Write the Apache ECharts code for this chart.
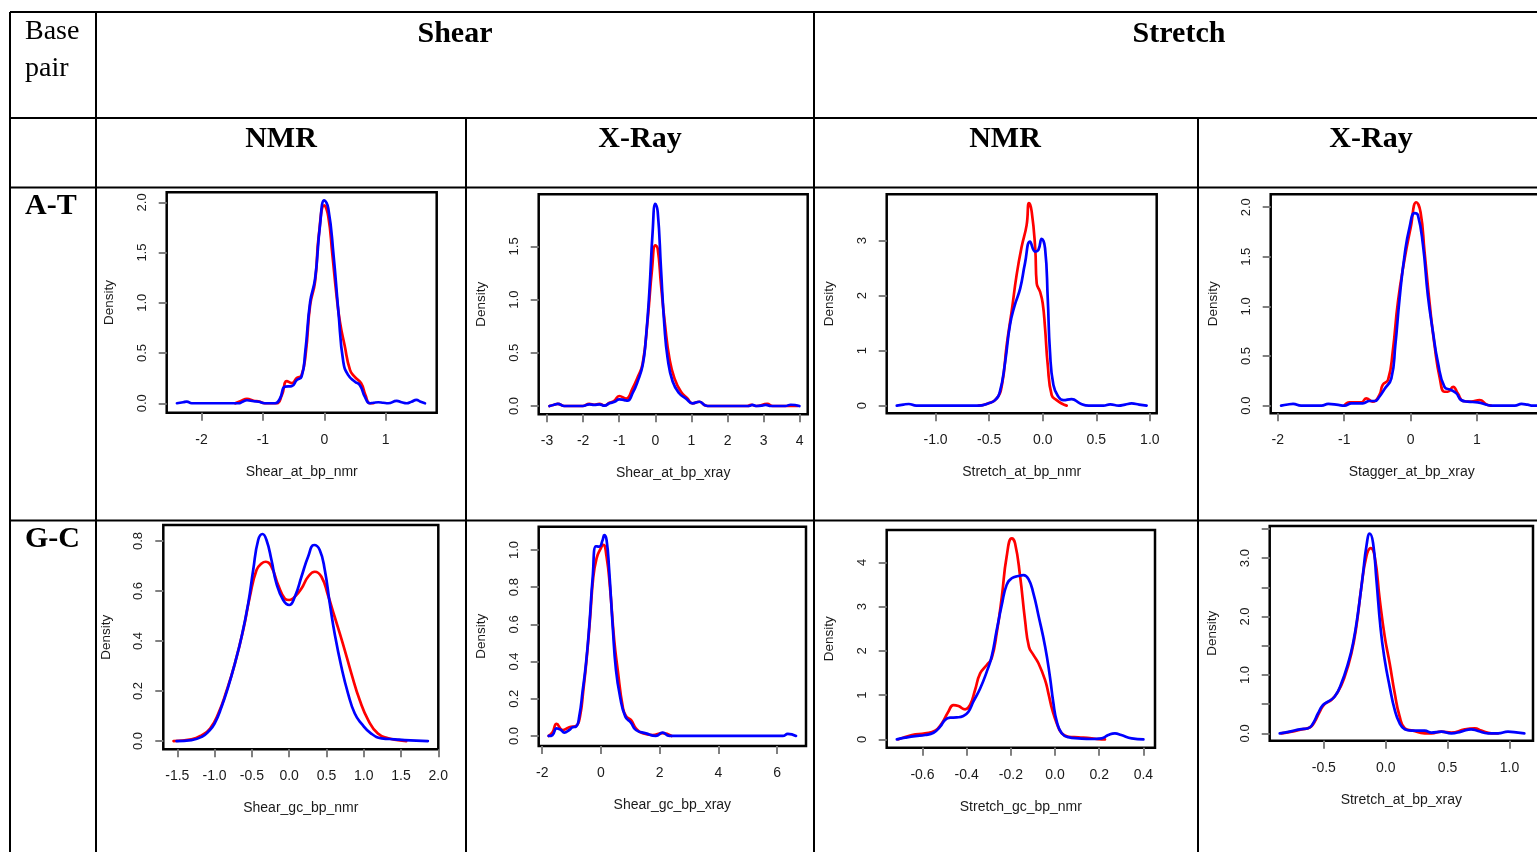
<!DOCTYPE html>
<html>
<head>
<meta charset="utf-8">
<title>Shear and Stretch density by base pair</title>
<script src="https://cdn.jsdelivr.net/npm/echarts@6/dist/echarts.min.js"></script>
<style>
  html, body { margin: 0; padding: 0; background: #ffffff; }
  #chart { width: 1537px; height: 852px; }
</style>
</head>
<body>
<div id="chart"></div>
<script>
// ---------- table text ----------
const rowLabels = ['A-T', 'G-C'];
const groupLabels = ['Shear', 'Stretch'];
const methodLabels = ['NMR', 'X-Ray', 'NMR', 'X-Ray'];
const cornerLabel = ['Base', 'pair'];

// ---------- panel axis titles ----------
const xAxisTitles = [
  'Shear_at_bp_nmr', 'Shear_at_bp_xray', 'Stretch_at_bp_nmr', 'Stagger_at_bp_xray',
  'Shear_gc_bp_nmr', 'Shear_gc_bp_xray', 'Stretch_gc_bp_nmr', 'Stretch_at_bp_xray'
];
const yAxisTitle = 'Density';

// ---------- axis ranges ----------
const xRanges = [[-2.567, 1.831], [-3.23, 4.22], [-1.456, 1.064], [-2.107, 2.14],
                 [-1.6875, 2.0], [-2.12, 6.98], [-0.762, 0.4525], [-0.937, 1.19]];
const yRanges = [[-0.094, 2.10], [-0.078, 1.99], [-0.139, 3.84], [-0.077, 2.13],
                 [-0.033, 0.864], [-0.054, 1.125], [-0.188, 4.73], [-0.126, 3.55]];

// ---------- tick values ----------
const xTicks = [[-2, -1, 0, 1], [-3, -2, -1, 0, 1, 2, 3, 4], [-1, -0.5, 0, 0.5, 1], [-2, -1, 0, 1],
                [-1.5, -1, -0.5, 0, 0.5, 1, 1.5, 2], [-2, 0, 2, 4, 6],
                [-0.6, -0.4, -0.2, 0, 0.2, 0.4], [-0.5, 0, 0.5, 1]];
const xDecimals = [0, 0, 1, 0, 1, 0, 1, 1];
const yTicks = [[0, 0.5, 1, 1.5, 2], [0, 0.5, 1, 1.5], [0, 1, 2, 3], [0, 0.5, 1, 1.5, 2],
                [0, 0.2, 0.4, 0.6, 0.8], [0, 0.2, 0.4, 0.6, 0.8, 1], [0, 1, 2, 3, 4],
                [0, 0.5, 1, 1.5, 2, 2.5, 3, 3.5]];
const yTickLabels = [[0, 0.5, 1, 1.5, 2], [0, 0.5, 1, 1.5], [0, 1, 2, 3], [0, 0.5, 1, 1.5, 2],
                     [0, 0.2, 0.4, 0.6, 0.8], [0, 0.2, 0.4, 0.6, 0.8, 1], [0, 1, 2, 3, 4],
                     [0, 1, 2, 3]];
const yDecimals = [1, 1, 0, 1, 1, 1, 0, 1];

// ---------- density curves [x, density] ----------
const atShearNmrRed = [[-1.45,0],[-1.35,0.025],[-1.26,0.043],[-1.15,0.025],[-1.07,0.02],[-0.97,0],[-0.78,0],[-0.69,0.083],[-0.61,0.22],[-0.53,0.20],[-0.45,0.25],[-0.37,0.28],[-0.30,0.51],[-0.23,0.98],[-0.15,1.21],[-0.09,1.67],[0,1.97],[0.065,1.86],[0.13,1.49],[0.20,1.07],[0.255,0.81],[0.33,0.58],[0.42,0.33],[0.50,0.26],[0.60,0.20],[0.67,0.083],[0.74,0],[0.80,0]];
const atShearNmrBlue = [[-2.40,0],[-2.30,0.01],[-2.24,0.017],[-2.16,0],[-1.40,0],[-1.33,0.015],[-1.26,0.03],[-1.15,0.02],[-1.07,0.015],[-0.97,0],[-0.80,0],[-0.72,0.05],[-0.64,0.165],[-0.53,0.17],[-0.45,0.23],[-0.37,0.265],[-0.31,0.51],[-0.23,1.01],[-0.15,1.24],[-0.07,1.77],[0,2.02],[0.065,1.94],[0.15,1.48],[0.23,0.91],[0.31,0.41],[0.39,0.28],[0.50,0.215],[0.58,0.18],[0.66,0.066],[0.74,0],[0.80,0.005],[0.88,0.01],[0.96,0.005],[1.04,0],[1.18,0.023],[1.26,0.01],[1.34,0],[1.42,0.015],[1.50,0.033],[1.57,0.015],[1.64,0]];

const atShearXrayRed = [[-2.93,0],[-2.80,0.012],[-2.70,0.02],[-2.52,0],[-2.01,0],[-1.83,0.02],[-1.69,0.012],[-1.55,0.02],[-1.41,0.005],[-1.27,0.03],[-1.13,0.05],[-1.0,0.094],[-0.81,0.07],[-0.63,0.166],[-0.49,0.27],[-0.35,0.40],[-0.21,0.82],[-0.09,1.29],[0,1.51],[0.065,1.48],[0.157,1.14],[0.27,0.76],[0.39,0.45],[0.53,0.26],[0.71,0.135],[0.89,0.07],[1.03,0.025],[1.22,0.04],[1.36,0.01],[1.45,0],[2.55,0],[2.65,0.012],[2.8,0],[3.1,0.02],[3.25,0],[3.95,0]];
const atShearXrayBlue = [[-2.93,0],[-2.80,0.012],[-2.70,0.02],[-2.52,0],[-2.01,0],[-1.83,0.016],[-1.69,0.01],[-1.55,0.016],[-1.41,0.003],[-1.27,0.025],[-1.13,0.04],[-1.0,0.063],[-0.86,0.056],[-0.77,0.05],[-0.63,0.12],[-0.49,0.23],[-0.35,0.385],[-0.26,0.64],[-0.166,1.07],[-0.074,1.64],[0,1.90],[0.065,1.83],[0.157,1.29],[0.25,0.76],[0.34,0.45],[0.48,0.23],[0.66,0.12],[0.85,0.07],[1.03,0.025],[1.22,0.04],[1.36,0.01],[1.45,0],[2.6,0],[2.69,0.01],[2.8,0],[2.95,0.003],[3.06,0.01],[3.2,0],[3.6,0],[3.75,0.012],[3.99,0]];

const atStretchNmrRed = [[-0.60,0],[-0.51,0.04],[-0.43,0.13],[-0.38,0.38],[-0.336,1.10],[-0.29,1.71],[-0.243,2.38],[-0.196,2.89],[-0.15,3.28],[-0.128,3.68],[-0.103,3.53],[-0.07,2.86],[-0.056,2.22],[-0.025,2.07],[0,1.86],[0.022,1.41],[0.047,0.74],[0.084,0.19],[0.13,0.10],[0.177,0.04],[0.224,0]];
const atStretchNmrBlue = [[-1.362,0],[-1.30,0.02],[-1.25,0.03],[-1.18,0],[-0.60,0],[-0.51,0.04],[-0.445,0.10],[-0.40,0.25],[-0.35,0.80],[-0.305,1.47],[-0.26,1.83],[-0.21,2.13],[-0.165,2.59],[-0.118,2.98],[-0.07,2.80],[-0.04,2.83],[-0.01,3.03],[0.022,2.86],[0.047,1.95],[0.068,0.98],[0.10,0.375],[0.146,0.164],[0.193,0.10],[0.27,0.12],[0.35,0.04],[0.43,0],[0.566,0],[0.63,0.024],[0.71,0],[0.77,0.02],[0.83,0.04],[0.90,0.02],[0.97,0]];

const atStaggerXrayRed = [[-1.0,0],[-0.92,0.034],[-0.74,0.034],[-0.67,0.074],[-0.57,0.04],[-0.47,0.107],[-0.42,0.21],[-0.34,0.26],[-0.27,0.54],[-0.19,1.05],[-0.09,1.48],[0,1.79],[0.085,2.05],[0.15,1.95],[0.21,1.55],[0.29,1.01],[0.36,0.61],[0.44,0.275],[0.51,0.14],[0.56,0.14],[0.64,0.19],[0.71,0.124],[0.79,0.047],[0.91,0.04],[1.04,0.057],[1.14,0.013],[1.21,0]];
const atStaggerXrayBlue = [[-1.95,0],[-1.85,0.012],[-1.77,0.017],[-1.65,0],[-1.34,0],[-1.24,0.017],[-1.09,0.007],[-1.0,0],[-0.89,0.023],[-0.72,0.023],[-0.62,0.047],[-0.54,0.047],[-0.47,0.09],[-0.39,0.17],[-0.29,0.275],[-0.23,0.61],[-0.166,1.08],[-0.09,1.52],[-0.015,1.80],[0.06,1.94],[0.11,1.92],[0.186,1.62],[0.26,1.11],[0.336,0.745],[0.41,0.44],[0.51,0.19],[0.61,0.158],[0.69,0.124],[0.76,0.057],[0.86,0.04],[1.01,0.034],[1.16,0.007],[1.21,0],[1.57,0],[1.67,0.017],[1.76,0.01],[1.84,0],[1.98,0]];

const gcShearNmrRed = [[-1.55,0],[-1.31,0.007],[-1.17,0.024],[-1.06,0.05],[-0.95,0.11],[-0.84,0.20],[-0.728,0.31],[-0.616,0.444],[-0.527,0.577],[-0.4375,0.684],[-0.37,0.71],[-0.3125,0.717],[-0.237,0.697],[-0.147,0.624],[-0.058,0.57],[0,0.564],[0.076,0.577],[0.165,0.61],[0.254,0.657],[0.344,0.677],[0.433,0.657],[0.52,0.584],[0.61,0.497],[0.72,0.39],[0.835,0.27],[0.946,0.164],[1.06,0.084],[1.19,0.03],[1.33,0.011],[1.46,0.004],[1.57,0]];
const gcShearNmrBlue = [[-1.51,0],[-1.31,0.004],[-1.17,0.017],[-1.085,0.037],[-1.0,0.07],[-0.906,0.137],[-0.817,0.217],[-0.728,0.31],[-0.638,0.417],[-0.549,0.55],[-0.482,0.684],[-0.415,0.804],[-0.357,0.828],[-0.304,0.804],[-0.237,0.724],[-0.17,0.63],[-0.08,0.564],[0,0.544],[0.076,0.577],[0.165,0.657],[0.254,0.737],[0.335,0.784],[0.41,0.764],[0.478,0.684],[0.545,0.55],[0.61,0.43],[0.70,0.297],[0.79,0.19],[0.88,0.11],[0.97,0.07],[1.10,0.03],[1.24,0.011],[1.42,0.007],[1.55,0.004],[1.86,0]];

const gcShearXrayRed = [[-1.78,0],[-1.65,0.02],[-1.51,0.065],[-1.305,0.032],[-1.08,0.047],[-0.85,0.054],[-0.715,0.104],[-0.60,0.247],[-0.49,0.41],[-0.375,0.624],[-0.26,0.857],[-0.15,0.955],[-0.034,1.0],[0.08,1.027],[0.19,0.964],[0.306,0.80],[0.45,0.516],[0.57,0.355],[0.74,0.158],[0.85,0.107],[1.02,0.086],[1.19,0.041],[1.42,0.014],[1.76,0.005],[2.10,0.015],[2.4,0]];
const gcShearXrayBlue = [[-1.78,0],[-1.65,0.005],[-1.51,0.041],[-1.36,0.032],[-1.25,0.018],[-1.08,0.032],[-0.965,0.047],[-0.85,0.05],[-0.74,0.104],[-0.62,0.247],[-0.51,0.39],[-0.40,0.588],[-0.28,0.857],[-0.17,1.02],[-0.057,1.018],[0.057,1.054],[0.11,1.08],[0.19,1.054],[0.28,0.89],[0.40,0.588],[0.51,0.355],[0.65,0.211],[0.83,0.104],[1.02,0.072],[1.19,0.032],[1.53,0.014],[1.87,0],[2.10,0.018],[2.33,0],[6.19,0],[6.36,0.011],[6.64,0]];

const gcStretchNmrRed = [[-0.709,0],[-0.648,0.098],[-0.588,0.136],[-0.543,0.196],[-0.513,0.36],[-0.483,0.625],[-0.46,0.776],[-0.437,0.753],[-0.407,0.678],[-0.385,0.776],[-0.362,1.115],[-0.339,1.49],[-0.309,1.68],[-0.287,1.83],[-0.264,2.40],[-0.241,3.22],[-0.219,4.13],[-0.196,4.54],[-0.181,4.43],[-0.158,3.68],[-0.136,2.70],[-0.118,2.09],[-0.098,1.91],[-0.075,1.72],[-0.045,1.34],[-0.030,1.04],[-0.012,0.66],[0.008,0.36],[0.030,0.14],[0.06,0.06],[0.106,0.045],[0.166,0.023],[0.196,0.005],[0.226,0]];
const gcStretchNmrBlue = [[-0.716,0],[-0.679,0.038],[-0.633,0.075],[-0.588,0.098],[-0.55,0.15],[-0.52,0.286],[-0.498,0.437],[-0.475,0.49],[-0.445,0.497],[-0.415,0.527],[-0.392,0.625],[-0.37,0.85],[-0.339,1.15],[-0.309,1.53],[-0.287,1.87],[-0.264,2.47],[-0.241,3.04],[-0.219,3.49],[-0.196,3.64],[-0.166,3.69],[-0.143,3.71],[-0.12,3.62],[-0.098,3.30],[-0.075,2.80],[-0.045,2.10],[-0.023,1.41],[-0.008,0.84],[0.008,0.40],[0.030,0.14],[0.060,0.05],[0.106,0.023],[0.166,0.008],[0.211,0.023],[0.241,0.098],[0.271,0.136],[0.30,0.098],[0.347,0.023],[0.40,0]];

const gcStretchXrayRed = [[-0.843,0],[-0.76,0.029],[-0.68,0.069],[-0.614,0.10],[-0.574,0.2],[-0.533,0.37],[-0.493,0.503],[-0.439,0.571],[-0.385,0.714],[-0.331,0.971],[-0.277,1.37],[-0.237,1.83],[-0.196,2.51],[-0.156,3.03],[-0.121,3.17],[-0.089,3.03],[-0.048,2.29],[-0.008,1.66],[0.032,1.2],[0.073,0.686],[0.113,0.286],[0.154,0.086],[0.22,0.046],[0.315,0],[0.369,0],[0.45,0.029],[0.53,0.011],[0.638,0.069],[0.72,0.086],[0.773,0.046],[0.854,0],[0.908,0]];
const gcStretchXrayBlue = [[-0.856,0],[-0.776,0.029],[-0.695,0.069],[-0.627,0.086],[-0.587,0.17],[-0.547,0.34],[-0.506,0.486],[-0.466,0.543],[-0.412,0.63],[-0.358,0.857],[-0.304,1.2],[-0.264,1.54],[-0.224,2.06],[-0.183,2.74],[-0.156,3.2],[-0.129,3.42],[-0.102,3.26],[-0.075,2.63],[-0.04,1.77],[-0.008,1.26],[0.032,0.8],[0.073,0.4],[0.113,0.17],[0.154,0.069],[0.207,0.046],[0.315,0.046],[0.369,0.011],[0.45,0.029],[0.53,0],[0.61,0.029],[0.69,0.069],[0.746,0.04],[0.827,0],[0.908,0],[0.988,0.029],[1.07,0.011],[1.12,0]];

const redCurves = [atShearNmrRed, atShearXrayRed, atStretchNmrRed, atStaggerXrayRed,
                   gcShearNmrRed, gcShearXrayRed, gcStretchNmrRed, gcStretchXrayRed];
const blueCurves = [atShearNmrBlue, atShearXrayBlue, atStretchNmrBlue, atStaggerXrayBlue,
                    gcShearNmrBlue, gcShearXrayBlue, gcStretchNmrBlue, gcStretchXrayBlue];

// ---------- layout ----------
const panelBoxes = [
  { left: 166.7, top: 192.3, width: 270, height: 220.4 },
  { left: 538.7, top: 194.3, width: 269, height: 220 },
  { left: 886.7, top: 194.3, width: 270, height: 219 },
  { left: 1270.7, top: 194.3, width: 282, height: 219 },
  { left: 163.3, top: 525, width: 275, height: 224.3 },
  { left: 538.7, top: 526.7, width: 267.3, height: 219.3 },
  { left: 886.7, top: 530, width: 268.3, height: 217.7 },
  { left: 1269.7, top: 526, width: 263.3, height: 214.7 }
];

const SANS = '"Liberation Sans", Arial, sans-serif';
const SERIF = '"Liberation Serif", "Times New Roman", serif';
const INK = '#1a1a1a';

const fixed = d => v => Number(v).toFixed(d);

const grids = panelBoxes.map(b => ({
  left: b.left, top: b.top, width: b.width, height: b.height,
  show: true, borderColor: '#000', borderWidth: 2.5, backgroundColor: 'transparent',
  containLabel: false, outerBoundsMode: 'none'
}));

const xAxes = panelBoxes.map((b, i) => ({
  type: 'value', gridIndex: i, min: xRanges[i][0], max: xRanges[i][1],
  name: xAxisTitles[i], nameLocation: 'middle', nameGap: 52,
  nameTextStyle: { fontFamily: SANS, fontSize: 14, color: INK },
  axisLine: { show: false, onZero: false },
  splitLine: { show: false },
  axisTick: { show: true, inside: false, length: 8, customValues: xTicks[i],
              lineStyle: { color: '#808080', width: 2 } },
  axisLabel: { show: true, margin: 20, customValues: xTicks[i], formatter: fixed(xDecimals[i]),
               fontFamily: SANS, fontSize: 14, color: INK }
}));

const yAxes = panelBoxes.map((b, i) => ({
  type: 'value', gridIndex: i, min: yRanges[i][0], max: yRanges[i][1],
  name: yAxisTitle, nameLocation: 'middle', nameGap: 50, nameRotate: 90,
  nameTextStyle: { fontFamily: SANS, fontSize: 13.5, color: INK },
  axisLine: { show: false, onZero: false },
  splitLine: { show: false },
  axisTick: { show: true, inside: false, length: 8, customValues: yTicks[i],
              lineStyle: { color: '#808080', width: 2 } },
  axisLabel: { show: true, rotate: 90, margin: 18, customValues: yTickLabels[i],
               formatter: fixed(yDecimals[i]), fontFamily: SANS, fontSize: 13, color: INK }
}));

// red drawn first, blue on top
const series = [];
panelBoxes.forEach((b, i) => {
  series.push({
    type: 'line', xAxisIndex: i, yAxisIndex: i, data: redCurves[i],
    showSymbol: false, smooth: 0.5, silent: true, z: 2,
    lineStyle: { color: '#ff0000', width: 2.7, join: 'round', cap: 'round' },
    itemStyle: { color: '#ff0000' }
  });
  series.push({
    type: 'line', xAxisIndex: i, yAxisIndex: i, data: blueCurves[i],
    showSymbol: false, smooth: 0.5, silent: true, z: 3,
    lineStyle: { color: '#0000ff', width: 2.7, join: 'round', cap: 'round' },
    itemStyle: { color: '#0000ff' }
  });
});

// table rules
const ruleStyle = { stroke: '#000', lineWidth: 2 };
const rule = (x1, y1, x2, y2) => ({ type: 'line', silent: true, z: 1,
  shape: { x1, y1, x2, y2 }, style: ruleStyle });
const tableRules = [
  rule(10, 12, 1537, 12),
  rule(10, 118, 1537, 118),
  rule(10, 187.5, 1537, 187.5),
  rule(10, 520.5, 1537, 520.5),
  rule(10, 12, 10, 852),
  rule(96, 12, 96, 852),
  rule(814, 12, 814, 852),
  rule(466, 118, 466, 852),
  rule(1198, 118, 1198, 852)
];

const label = (text, x, y, font, align) => ({
  type: 'text', x, y, silent: true, z: 5,
  style: { text, font, fill: '#000', textFill: '#000',
           align, textAlign: align, verticalAlign: 'middle', textVerticalAlign: 'middle' }
});
const HEAD = 'bold 30px ' + SERIF;
const headerTexts = [
  label(cornerLabel[0], 25, 31.5, '28px ' + SERIF, 'left'),
  label(cornerLabel[1], 25, 69, '28px ' + SERIF, 'left'),
  label(groupLabels[0], 455, 34, HEAD, 'center'),
  label(groupLabels[1], 1179, 34, HEAD, 'center'),
  label(methodLabels[0], 281, 139, HEAD, 'center'),
  label(methodLabels[1], 640, 139, HEAD, 'center'),
  label(methodLabels[2], 1005, 139, HEAD, 'center'),
  label(methodLabels[3], 1371, 139, HEAD, 'center'),
  label(rowLabels[0], 25, 206, HEAD, 'left'),
  label(rowLabels[1], 25, 539, HEAD, 'left')
];

const chart = echarts.init(document.getElementById('chart'), null, { renderer: 'canvas' });
chart.setOption({
  animation: false,
  backgroundColor: '#ffffff',
  textStyle: { fontFamily: SANS },
  grid: grids,
  xAxis: xAxes,
  yAxis: yAxes,
  series: series,
  graphic: { elements: tableRules.concat(headerTexts) }
});
</script>
</body>
</html>
